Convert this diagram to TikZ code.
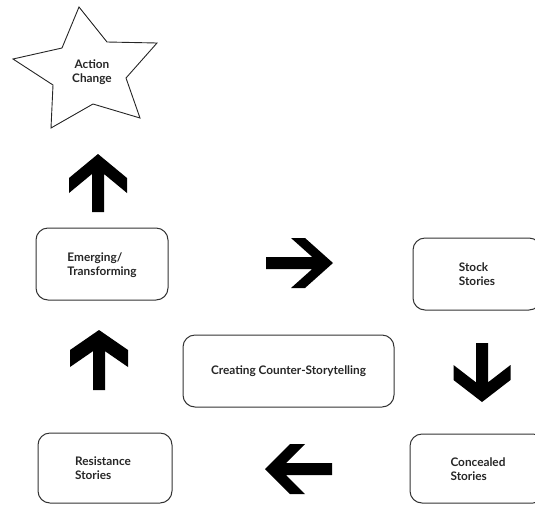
\documentclass[tikz,border=0pt]{standalone}
\usepackage{fontspec}
\setmainfont{Lato}
\begin{document}
\begin{tikzpicture}[x=1pt,y=-1pt,
  box/.style={draw=black!80,line width=1pt,rounded corners=12pt},
  lbl/.style={font=\fontsize{11.8}{14}\selectfont\bfseries,text=black!85,align=left,inner sep=0pt},
  pics/barrow/.style n args={4}{code={
    \fill[black] (0,0) -- (-#3,#2) -- ({-#3-#4},#2) -- ({-(#3+#4)+(#2-6)*#3/#2},6)
      -- (-#1,6) -- (-#1,-6) -- ({-(#3+#4)+(#2-6)*#3/#2},-6) -- ({-#3-#4},-#2) -- (-#3,-#2) -- cycle;
  }}]
\useasboundingbox (0,0) rectangle (535,504);
\begin{scope}
\clip (0,0) rectangle (535,504);
% star
\draw[black!85,line width=0.9pt,line join=miter]
  (79,7) -- (107,42) -- (157,43) -- (126,78) -- (140,118) -- (93,104)
  -- (51,128) -- (53,85) -- (13,59) -- (62,48) -- cycle;
\node[lbl,align=center] (action) at (92,72) {Action\\Change};
% boxes
\draw[box] (36,228) rectangle (168,300);
\node[lbl] (emerging) at (102,265) {Emerging/\\Transforming};
\draw[box] (413,238) rectangle (541,310);
\node[lbl] (stock) at (477,274) {Stock\\Stories};
\draw[box] (183,335) rectangle (394,407);
\node[lbl] (counter) at (288.5,371) {Creating Counter-Storytelling};
\draw[box] (38,433) rectangle (172,503);
\node[lbl] (resistance) at (103,468) {Resistance\\Stories};
\draw[box] (410,434) rectangle (545,503);
\node[lbl] (concealed) at (478,469) {Concealed\\Stories};
% block arrows
\pic[rotate=90] at (98,154) {barrow={58}{29}{24}{15}};
\pic at (333,263) {barrow={67}{25}{28}{14}};
\pic[rotate=-90] at (482,402) {barrow={59}{28.5}{22}{15}};
\pic[rotate=90] at (99,330) {barrow={60}{29}{20}{17}};
\pic[rotate=180] at (265,469) {barrow={67}{25}{25}{15}};
\end{scope}
\end{tikzpicture}
\end{document}
